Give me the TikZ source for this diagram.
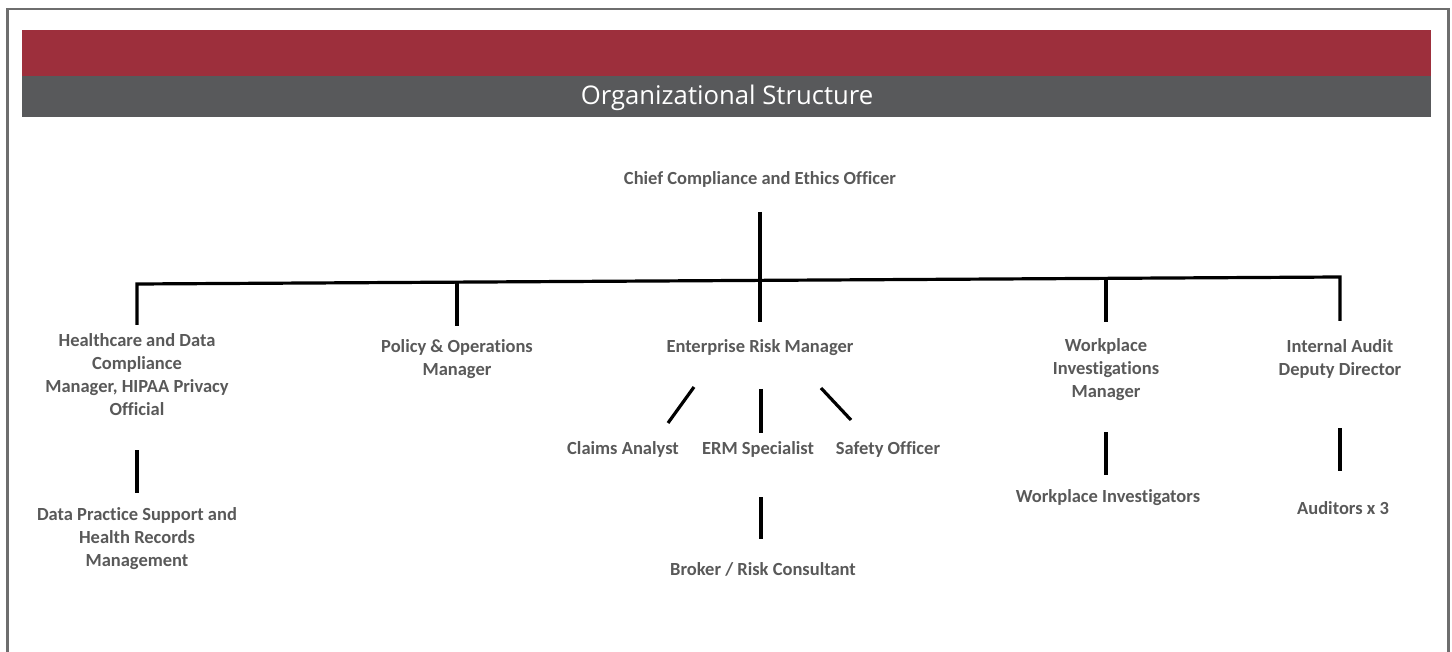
\documentclass[tikz,border=0pt]{standalone}
\usepackage{fontspec}
\setmainfont[Ligatures=NoCommon]{Carlito}
\newfontfamily\titlefont{Open Sans}
\definecolor{bandred}{RGB}{157,47,60}
\definecolor{bandgray}{RGB}{88,89,91}
\definecolor{labelgray}{RGB}{89,89,89}
\definecolor{framegray}{RGB}{110,110,110}
\begin{document}
\begin{tikzpicture}[x=1pt,y=-1pt,
  lbl/.style={inner sep=0pt,align=center,text=labelgray,font=\fontsize{18.5}{23}\selectfont\bfseries},
  conn/.style={line width=3.2pt,black},
  frame/.style={framegray}]
\useasboundingbox (0,0) rectangle (1452,652);
\fill[white] (0,0) rectangle (1452,652);
% frame
\draw[frame,line width=2.6pt] (7.3,652) -- (7.3,9) -- (1448.5,9) -- (1448.5,652);
% bands
\fill[bandred] (22,30) rectangle (1431,76);
\fill[bandgray] (22,76) rectangle (1431,117);
\node[text=white,inner sep=0pt,font=\titlefont\fontsize{25.7}{30}\selectfont] (title) at (727,98) {Organizational Structure};

% labels
\node[lbl] (chief) at (760,179) {Chief Compliance and Ethics Officer};
\node[lbl] (hc) at (137,375) {Healthcare and Data\\Compliance\\Manager, HIPAA Privacy\\Official};
\node[lbl] (pol) at (457,359) {Policy \& Operations\\Manager};
\node[lbl] (erm) at (760,348) {Enterprise Risk Manager};
\node[lbl] (wim) at (1106,370) {Workplace\\Investigations\\Manager};
\node[lbl] (iad) at (1340,359) {Internal Audit\\Deputy Director};
\node[lbl] (dps) at (137,539) {Data Practice Support and\\Health Records\\Management};
\node[lbl] (ca) at (623,449) {Claims Analyst};
\node[lbl] (ermsp) at (758,449) {ERM Specialist};
\node[lbl] (so) at (888,449) {Safety Officer};
\node[lbl] (brk) at (763,569) {Broker / Risk Consultant};
\node[lbl] (wi) at (1108,498) {Workplace Investigators};
\node[lbl] (aud) at (1343,508) {Auditors x 3};

% bus coordinates
\coordinate (chiefdown) at (760,212);
\coordinate (busL) at (137,284);
\coordinate (busR) at (1340,277);
\coordinate (hcup) at (137,325);
\coordinate (polbus) at (457,282);
\coordinate (polup) at (457,326);
\coordinate (ermup) at (760,322);
\coordinate (wimbus) at (1106,278);
\coordinate (wimup) at (1106,322);
\coordinate (iadup) at (1340,321);

\draw[conn] (chiefdown) -- (ermup);
\draw[conn] (hcup) -- (busL) -- (busR) -- (iadup);
\draw[conn] (polbus) -- (polup);
\draw[conn] (wimbus) -- (wimup);

% sub connectors
\coordinate (hcd1) at (137,450);
\coordinate (hcd2) at (137,493);
\draw[conn] (hcd1) -- (hcd2);

\coordinate (e1a) at (694,387);
\coordinate (e1b) at (668,423);
\coordinate (e2a) at (761,389);
\coordinate (e2b) at (761,433);
\coordinate (e3a) at (821,388);
\coordinate (e3b) at (851,420);
\draw[conn] (e1a) -- (e1b);
\draw[conn] (e2a) -- (e2b);
\draw[conn] (e3a) -- (e3b);

\coordinate (b1) at (761,497);
\coordinate (b2) at (761,539);
\draw[conn] (b1) -- (b2);

\coordinate (w1) at (1106,432);
\coordinate (w2) at (1106,475);
\draw[conn] (w1) -- (w2);

\coordinate (a1) at (1340,428);
\coordinate (a2) at (1340,471);
\draw[conn] (a1) -- (a2);
\end{tikzpicture}
\end{document}
